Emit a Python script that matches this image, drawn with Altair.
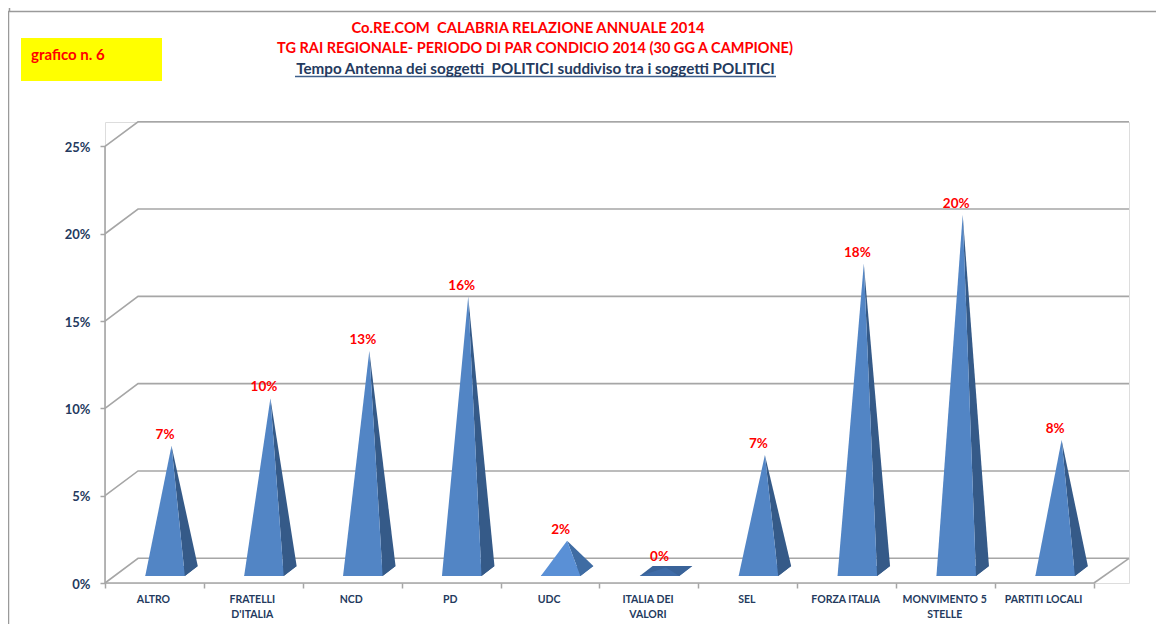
import altair as alt
import pandas as pd

categories = ["ALTRO", "FRATELLI\nD'ITALIA", "NCD", "PD", "UDC", "ITALIA DEI\nVALORI", "SEL",
              "FORZA ITALIA", "MONVIMENTO 5\nSTELLE", "PARTITI LOCALI"]
values = [7.17, 9.9, 12.6, 15.7, 1.74, 0.2, 6.65, 17.6, 20.4, 7.5]
y_ticks = [0, 5, 10, 15, 20, 25]
front_colors = ["#5285c5", "#5285c5", "#5285c5", "#5285c5", "#5a90d6", "#3f6ca8",
                "#5285c5", "#5285c5", "#5285c5", "#5285c5"]
side_colors = ["#355a88", "#355a88", "#355a88", "#355a88", "#3f6ca3", "#3a6399",
               "#355a88", "#355a88", "#355a88", "#355a88"]
title_lines = ["Co.RE.COM\u00a0 CALABRIA RELAZIONE ANNUALE 2014",
               "TG RAI REGIONALE- PERIODO DI PAR CONDICIO 2014 (30 GG A CAMPIONE)"]
subtitle = "Tempo Antenna dei soggetti\u00a0 POLITICI suddiviso tra i soggetti POLITICI"

FONT = "Lato"
GRAY = "#a6a6a6"
NAVY = "#243a5e"
X_MAX, Y_MAX = 10.354, 26.40
DEPTH_X, DEPTH_Y = 0.334, 1.415
HALF, SHIFT, PX, PY, FLOOR = 0.2, 0.107, 0.131, 0.573, 0.40

x_scale = alt.Scale(domain=[0, X_MAX], nice=False, zero=False)
y_scale = alt.Scale(domain=[0, Y_MAX], nice=False, zero=False)

# pyramid faces derived from the values
rows = []
for i, (cat, v) in enumerate(zip(categories, values)):
    c = i + 0.5 + SHIFT
    L, R = c - HALF, c + HALF
    y0, y1 = FLOOR, FLOOR + PY
    ax, ay = c + PX / 2, FLOOR + PY / 2 + v
    faces = {
        "base": ([(L, y0), (R, y0), (R + PX, y1), (L + PX, y1)], side_colors[i]),
        "side": ([(R, y0), (R + PX, y1), (ax, ay)], side_colors[i]),
        "front": ([(L, y0), (R, y0), (ax, ay)], front_colors[i]),
    }
    for face, (pts, col) in faces.items():
        for k, (px, py) in enumerate(pts + [pts[0]]):
            rows.append({"id": f"{i}-{face}", "face": face, "k": k, "x": px, "y": py, "col": col})
poly = pd.DataFrame(rows)

labels = pd.DataFrame({
    "cat": categories,
    "xc": [i + 0.49 for i in range(10)],
    "xv": [i + 0.5 + SHIFT for i in range(10)],
    "yv": [FLOOR + PY / 2 + v for v in values],
    "txt": [f"{round(v)}%" for v in values],
})

# wall / floor grid
grid = []
for t in y_ticks:
    grid += [{"id": f"d{t}", "k": 0, "x": 0, "y": t}, {"id": f"d{t}", "k": 1, "x": DEPTH_X, "y": t + DEPTH_Y},
             {"id": f"d{t}", "k": 2, "x": X_MAX, "y": t + DEPTH_Y}]
grid += [{"id": "floor", "k": 0, "x": 10, "y": 0}, {"id": "floor", "k": 1, "x": X_MAX, "y": DEPTH_Y},
         {"id": "front", "k": 0, "x": 0, "y": 0}, {"id": "front", "k": 1, "x": 10, "y": 0},
         {"id": "yax", "k": 0, "x": 0, "y": 0}, {"id": "yax", "k": 1, "x": 0, "y": 25}]
grid = pd.DataFrame(grid)

X = alt.X("x:Q", scale=x_scale, title=None,
          axis=alt.Axis(values=list(range(11)), labels=False, domain=False, grid=False,
                        tickColor=GRAY, tickWidth=1.5, tickSize=5))
Y = alt.Y("y:Q", scale=y_scale, title=None,
          axis=alt.Axis(values=y_ticks, labelExpr="datum.value + '%'", domain=False, grid=False,
                        tickColor=GRAY, tickWidth=1.5, tickSize=5, labelPadding=10, labelOffset=1,
                        labelFont=FONT, labelFontWeight="bold", labelFontSize=13, labelColor=NAVY))

grid_layer = alt.Chart(grid).mark_line(color=GRAY, strokeWidth=1.6).encode(
    x=X, y=Y, detail="id:N", order="k:Q")

def face_layer(name):
    return alt.Chart(poly[poly.face == name]).mark_line(strokeWidth=0).encode(
        x=alt.X("x:Q", scale=x_scale), y=alt.Y("y:Q", scale=y_scale),
        detail="id:N", order="k:Q", fill=alt.Fill("col:N", scale=None))

value_text = alt.Chart(labels).mark_text(
    font=FONT, fontWeight="bold", fontSize=13.5, color="#ff0000", dy=-11, baseline="middle"
).encode(x=alt.X("xv:Q", scale=x_scale), y=alt.Y("yv:Q", scale=y_scale), text="txt:N")

cat_text = alt.Chart(labels).mark_text(
    font=FONT, fontWeight="bold", fontSize=10.5, color=NAVY, baseline="top", lineBreak="\n", lineHeight=15
).encode(x=alt.X("xc:Q", scale=x_scale), y=alt.value(473), text="cat:N")

def one():
    return pd.DataFrame({"a": [0]})

# page-level furniture, relative to the plot origin (page x 105, y 122)
box = alt.Chart(one()).mark_rect(color="#ffff00").encode(
    x=alt.value(-84), x2=alt.value(57), y=alt.value(-84), y2=alt.value(-41))
box_text = alt.Chart(pd.DataFrame({"t": ["grafico n. 6"]})).mark_text(
    font=FONT, fontWeight="bold", fontSize=15, color="#ff0000", align="left", baseline="middle"
).encode(x=alt.value(-74), y=alt.value(-67), text="t:N")
title1 = alt.Chart(pd.DataFrame({"t": [title_lines[0]]})).mark_text(
    font=FONT, fontWeight="bold", fontSize=14.8, color="#ff0000", baseline="middle"
).encode(x=alt.value(423), y=alt.value(-93), text="t:N")
title2 = alt.Chart(pd.DataFrame({"t": [title_lines[1]]})).mark_text(
    font=FONT, fontWeight="bold", fontSize=14.5, color="#ff0000", baseline="middle"
).encode(x=alt.value(430), y=alt.value(-73), text="t:N")
title3 = alt.Chart(pd.DataFrame({"t": [subtitle]})).mark_text(
    font=FONT, fontWeight="bold", fontSize=15.2, color=NAVY, baseline="middle"
).encode(x=alt.value(430.5), y=alt.value(-53), text="t:N")
underline = alt.Chart(one()).mark_rule(color="#3f5f8a", strokeWidth=1.5).encode(
    x=alt.value(190), x2=alt.value(671), y=alt.value(-45.5))
frame_top = alt.Chart(one()).mark_rule(color="#9a9a9a", strokeWidth=1.5).encode(
    x=alt.value(-97), x2=alt.value(1051), y=alt.value(-110.5))
frame_left = alt.Chart(one()).mark_rule(color="#9a9a9a", strokeWidth=1.5).encode(
    x=alt.value(-96.5), y=alt.value(-110.5), y2=alt.value(502))
frame_stub = alt.Chart(one()).mark_rule(color="#9a9a9a", strokeWidth=1.5).encode(
    x=alt.value(-95.5), y=alt.value(-114), y2=alt.value(-110.5))

chart = alt.layer(
    box, frame_top, frame_left, frame_stub, underline, box_text, title1, title2, title3,
    grid_layer, face_layer("base"), face_layer("side"), face_layer("front"),
    value_text, cat_text,
).properties(
    width=1024, height=461,
    padding={"left": 97, "top": 114, "right": 27, "bottom": 41},
    autosize=alt.AutoSizeParams(type="none"),
).configure_view(stroke=None).configure(background="white")

chart.save("out.html", embed_options={"renderer": "svg", "actions": False})
